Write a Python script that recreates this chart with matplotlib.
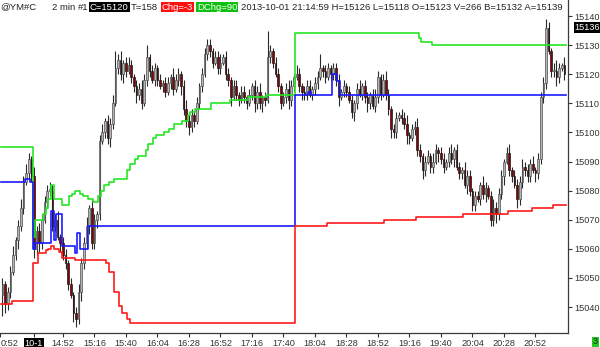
import numpy as np
import matplotlib.pyplot as plt

plt.rcParams['font.family'] = ['Liberation Sans', 'DejaVu Sans']

# 2-min bars, closing prices
closes = [
    15048, 15041, 15045, 15052, 15058, 15063, 15068, 15074, 15083, 15086,
    15091, 15085, 15060, 15066, 15062, 15070, 15076, 15080, 15080, 15068,
    15070, 15064, 15062, 15058, 15055, 15048, 15044, 15038, 15036, 15045,
    15055, 15062, 15068, 15074, 15062, 15070, 15072, 15097, 15100, 15104,
    15098, 15103, 15110, 15122, 15125, 15120, 15124, 15121, 15123, 15119,
    15116, 15113, 15115, 15110, 15118, 15126, 15121, 15118, 15122, 15118,
    15116, 15117, 15114, 15117, 15119, 15115, 15118, 15120, 15116, 15108,
    15104, 15102, 15106, 15104, 15110, 15116, 15120, 15127, 15130, 15128,
    15124, 15126, 15122, 15124, 15126, 15120, 15118, 15112, 15116, 15113,
    15111, 15114, 15112, 15110, 15113, 15116, 15110, 15114, 15110, 15112,
    15111, 15126, 15128, 15124, 15120, 15116, 15110, 15112, 15115, 15111,
    15116, 15119, 15120, 15116, 15114, 15113, 15116, 15113, 15115, 15117,
    15119, 15122, 15121, 15119, 15122, 15120, 15122, 15118, 15112, 15114,
    15116, 15114, 15111, 15107, 15110, 15115, 15113, 15116, 15112, 15110,
    15113, 15109, 15112, 15119, 15113, 15118, 15113, 15108, 15101, 15100,
    15105, 15106, 15105, 15103, 15099, 15098, 15101, 15102, 15094, 15092,
    15087, 15090, 15092, 15088, 15090, 15094, 15093, 15091, 15088, 15090,
    15093, 15091, 15094, 15088, 15086, 15087, 15082, 15085, 15080, 15075,
    15078, 15077, 15082, 15079, 15081, 15078, 15070, 15074, 15072, 15079,
    15085, 15090, 15093, 15087, 15085, 15082, 15077, 15083, 15088, 15087,
    15085, 15089, 15087, 15086, 15091, 15112, 15117, 15136, 15128, 15121,
    15121, 15119, 15122, 15123, 15120]
first_open = 15044

# wick lengths above / below the body (points)
wick_up = [
    2, 1, 2, 2, 3, 1, 2, 3, 2, 3,
    2, 1, 3, 2, 3, 2, 2, 2, 3, 2,
    2, 3, 1, 2, 2, 1, 2, 1, 2, 3,
    2, 2, 3, 1, 3, 2, 1, 2, 3, 1,
    2, 2, 3, 6, 2, 3, 1, 2, 3, 2,
    1, 2, 2, 3, 2, 4, 1, 2, 2, 1,
    2, 1, 2, 2, 1, 3, 2, 2, 1, 2,
    3, 2, 2, 1, 2, 1, 2, 2, 2, 2,
    1, 2, 2, 3, 1, 2, 2, 1, 2, 2,
    1, 2, 2, 1, 2, 1, 2, 2, 3, 1,
    2, 9, 2, 1, 2, 2, 1, 2, 2, 3,
    2, 1, 3, 2, 1, 2, 2, 2, 1, 2,
    2, 5, 1, 2, 2, 1, 2, 2, 2, 1,
    2, 1, 2, 2, 1, 2, 3, 1, 2, 2,
    1, 2, 3, 2, 1, 2, 3, 2, 1, 2,
    2, 1, 2, 2, 3, 1, 2, 2, 3, 2,
    1, 2, 2, 1, 3, 2, 1, 2, 2, 1,
    2, 3, 1, 2, 2, 1, 3, 2, 2, 1,
    2, 2, 1, 3, 2, 1, 2, 3, 2, 2,
    2, 1, 2, 3, 1, 2, 2, 2, 3, 2,
    2, 2, 3, 1, 2, 2, 2, 3, 2, 1,
    3, 4, 2, 1, 3]
wick_dn = [
    7, 3, 2, 2, 1, 2, 3, 2, 2, 1,
    2, 2, 3, 2, 3, 2, 1, 2, 2, 2,
    2, 1, 3, 2, 2, 2, 1, 3, 3, 2,
    3, 2, 2, 3, 2, 2, 3, 2, 1, 2,
    2, 3, 2, 1, 2, 2, 3, 2, 1, 2,
    2, 3, 2, 2, 1, 2, 2, 1, 2, 2,
    1, 2, 2, 1, 2, 2, 1, 2, 3, 2,
    2, 3, 2, 2, 1, 2, 2, 1, 2, 2,
    2, 1, 2, 2, 1, 2, 2, 3, 1, 2,
    2, 1, 2, 2, 1, 2, 3, 2, 2, 3,
    2, 1, 2, 2, 1, 2, 2, 1, 2, 3,
    2, 2, 1, 2, 3, 2, 2, 1, 2, 2,
    2, 1, 2, 2, 1, 2, 2, 2, 3, 1,
    2, 2, 1, 2, 3, 2, 1, 2, 2, 3,
    2, 1, 2, 2, 2, 1, 2, 2, 3, 2,
    2, 1, 2, 2, 3, 2, 1, 2, 2, 2,
    3, 2, 1, 2, 2, 1, 3, 2, 2, 1,
    2, 2, 3, 1, 2, 2, 1, 3, 2, 2,
    2, 1, 2, 2, 3, 1, 2, 2, 3, 2,
    2, 3, 1, 2, 2, 1, 3, 2, 2, 2,
    2, 2, 1, 3, 2, 2, 2, 2, 1, 2,
    2, 3, 2, 1, 2]

# step indicator lines: bar index where value changes, new value
green_idx = [0, 12, 13, 16, 17, 18, 19, 20, 23, 26, 27, 28, 30, 31, 33, 35, 37,
             38, 39, 41, 43, 48, 49, 51, 52, 55, 56, 58, 59, 62, 64, 66, 69, 71,
             72, 74, 80, 87, 94, 101, 112, 159, 160, 164]
green_val = [15095, 15064, 15070, 15072, 15074, 15077, 15082, 15077, 15075,
             15078, 15079, 15080, 15079, 15078, 15077, 15076, 15078, 15080,
             15082, 15083, 15084, 15087, 15089, 15091, 15092, 15094, 15096,
             15098, 15099, 15100, 15101, 15103, 15104, 15106, 15107, 15108,
             15110, 15111, 15112, 15113, 15134, 15132.5, 15131, 15130]
red_idx = [0, 4, 12, 14, 17, 18, 19, 20, 22, 23, 28, 40, 41, 43, 45, 46, 48,
           49, 112, 124, 146, 158, 176, 193, 202, 210]
red_val = [15041, 15042, 15055, 15058.5, 15059.5, 15060, 15061, 15060, 15059,
           15057, 15056, 15055, 15052, 15045, 15040.5, 15038, 15036, 15034.5,
           15068, 15069, 15070, 15071, 15072, 15073, 15074, 15075]
blue_idx = [0, 9, 11, 12, 13, 19, 20, 21, 23, 28, 29, 30, 33, 112, 117, 118,
            126, 128, 129]
blue_val = [15083, 15084, 15083, 15060, 15062, 15073, 15063, 15072, 15061,
            15058.5, 15065.5, 15060, 15068, 15113, 15114, 15113, 15120,
            15117.5, 15113]

tick_bars = [-0.9, 12, 23, 35, 47, 59, 71, 83, 95, 107, 119, 131, 143, 155,
             167, 179, 191, 203]
tick_labels = ['0:52', '10-1', '14:52', '15:16', '15:40', '16:04', '16:28',
               '16:52', '17:16', '17:40', '18:04', '18:28', '18:52', '19:16',
               '19:40', '20:04', '20:28', '20:52']
y_ticks = list(range(15040, 15141, 10))
last_price = 15136

closes = np.array(closes, dtype=float)
opens = np.concatenate([[first_open], closes[:-1]])
highs = np.maximum(opens, closes) + np.array(wick_up)
lows = np.minimum(opens, closes) - np.array(wick_dn)
x = np.arange(len(closes))
n = len(closes)

W, H = 600, 347
fig = plt.figure(figsize=(6, 3.47), dpi=100)
ax = fig.add_axes([0, 14 / H, 568 / W, 333 / H])

# wicks + bodies
ax.vlines(x, lows, highs, color='#2a2a2a', linewidth=0.8, zorder=2)
up = closes >= opens
body = np.maximum(np.abs(closes - opens), 0.4)
bottom = np.minimum(opens, closes)
ax.bar(x[up], body[up], bottom=bottom[up], width=0.62, color='#b4b4b4',
       edgecolor='#505050', linewidth=0.5, zorder=3)
ax.bar(x[~up], body[~up], bottom=bottom[~up], width=0.62, color='#8b0000',
       edgecolor='#1a1a1a', linewidth=0.5, zorder=3)


def step_line(idx, val, color):
    xs = [i - 0.5 for i in idx] + [n - 0.5]
    ys = list(val) + [val[-1]]
    ax.plot(xs, ys, drawstyle='steps-post', color=color, linewidth=1.2,
            zorder=4)


step_line(green_idx, green_val, '#22e622')
step_line(blue_idx, blue_val, '#1a1aff')
step_line(red_idx, red_val, '#ff1a1a')

ax.set_xlim(-0.95, 215.4)
ax.set_ylim(15140 - 317 / 2.91, 15140 + 16 / 2.91)

for s in ['left', 'top']:
    ax.spines[s].set_visible(False)
for s in ['right', 'bottom']:
    ax.spines[s].set_color('#3a3a3a')
    ax.spines[s].set_linewidth(0.9)

ax.yaxis.tick_right()
ax.set_yticks(y_ticks)
ax.set_yticklabels([str(v) for v in y_ticks])
ax.tick_params(axis='y', length=3, pad=1.5, labelsize=6.6, colors='#333333')
ax.set_xticks(tick_bars)
ax.set_xticklabels(tick_labels)
ax.tick_params(axis='x', length=3, pad=1.5, labelsize=6.6, colors='#333333')
xl = ax.get_xticklabels()
xl[0].set_horizontalalignment('left')
xl[1].set_color('white')
xl[1].set_bbox(dict(facecolor='black', edgecolor='none', pad=0.8))

ax.text(1.012, last_price, str(last_price), transform=ax.get_yaxis_transform(),
        fontsize=6.6, color='white', va='center', ha='left',
        bbox=dict(facecolor='black', edgecolor='none', pad=0.8), zorder=6)

# header line
hy = 1 - 7 / H
hs = 6.8
fig.text(0 / W, hy, '@YM#C', fontsize=hs, va='center', color='#222222')
fig.text(52 / W, hy, '2 min', fontsize=hs, va='center', color='#222222')
fig.text(78 / W, hy, '#1', fontsize=hs, va='center', color='#222222')
fig.text(90 / W, hy, 'C=15120', fontsize=hs, va='center', color='white',
         bbox=dict(facecolor='black', edgecolor='none', pad=0.6))
fig.text(131 / W, hy, 'T=158', fontsize=hs, va='center', color='#222222')
fig.text(162 / W, hy, 'Chg=-3', fontsize=hs, va='center', color='white',
         bbox=dict(facecolor='#ff1010', edgecolor='none', pad=0.6))
fig.text(197 / W, hy, 'DChg=90', fontsize=hs, va='center', color='white',
         bbox=dict(facecolor='#10c010', edgecolor='none', pad=0.6))
fig.text(241 / W, hy,
         '2013-10-01 21:14:59 H=15126 L=15118 O=15123 V=266 B=15132 A=15139',
         fontsize=hs, va='center', color='#222222')
fig.text(593 / W, 1 - 342 / H, '3', fontsize=6.6, va='center', color='#222222',
         bbox=dict(facecolor='#22cc22', edgecolor='none', pad=0.6))

fig.savefig('out.png', dpi=100)
